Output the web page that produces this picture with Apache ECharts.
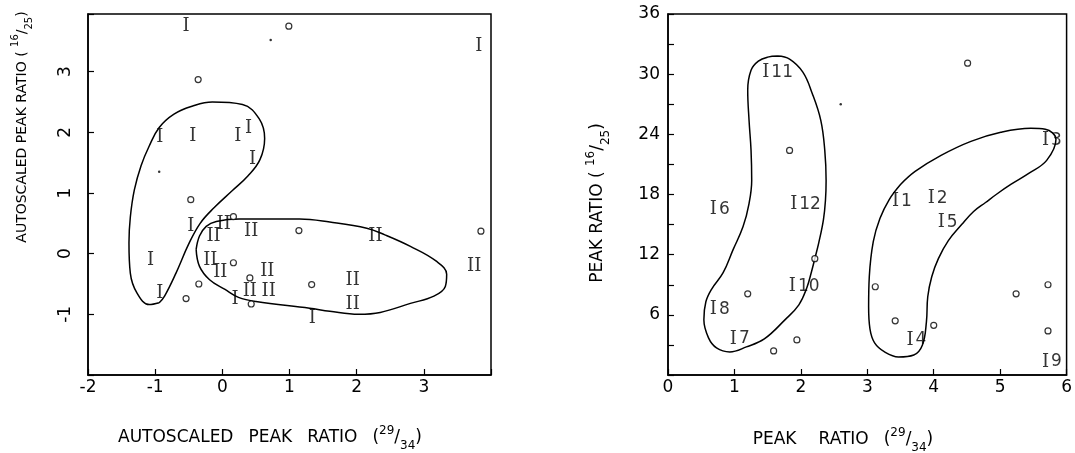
<!DOCTYPE html>
<html><head><meta charset="utf-8">
<script src="https://cdn.jsdelivr.net/npm/echarts@6/dist/echarts.min.js"></script>
<style>html,body{margin:0;padding:0;background:#fff}#c{width:1075px;height:453px}</style>
</head><body><div id="c"></div>
<script>
// ---------- Left panel: autoscaled peak ratios ----------
const leftXTicks = [-2, -1, 0, 1, 2, 3];
const leftYTicks = [-1, 0, 1, 2, 3];
const leftI = [[-0.54,3.75],[3.82,3.42],[-0.93,1.91],[-0.44,1.94],[0.23,1.94],[0.39,2.07],[0.45,1.56],
  [-0.47,0.45],[-1.07,-0.11],[-0.93,-0.66],[0.19,-0.76],[1.34,-1.06]];
const leftII = [[0.02,0.48],[-0.13,0.28],[0.43,0.37],[2.28,0.29],[-0.18,-0.11],[-0.03,-0.31],[0.67,-0.29],
  [0.41,-0.62],[0.69,-0.62],[1.94,-0.44],[1.94,-0.83],[3.75,-0.21]];
const leftCircles = [[0.99,3.75],[-0.36,2.87],[-0.47,0.89],[0.165,0.61],[1.14,0.38],[3.85,0.37],[0.165,-0.15],
  [0.41,-0.40],[-0.35,-0.50],[-0.54,-0.74],[0.43,-0.83],[1.33,-0.51]];
const leftDots = [[0.72,3.52],[-0.94,1.35]];
const leftLoopI = [[-0.94,-0.81],[-1.09,-0.84],[-1.27,-0.65],[-1.37,-0.32],[-1.39,0.18],[-1.37,0.60],[-1.31,1.05],
  [-1.21,1.45],[-1.09,1.77],[-0.94,2.08],[-0.72,2.30],[-0.45,2.43],[-0.15,2.50],[0.30,2.46],[0.55,2.22],[0.63,1.90],[0.56,1.55],[0.38,1.28],
  [0.15,1.04],[-0.12,0.76],[-0.33,0.50],[-0.50,0.16],[-0.69,-0.32],[-0.86,-0.70],[-0.94,-0.81]];
const leftLoopII = [[-0.39,0.07],[-0.34,0.29],[-0.24,0.45],[-0.09,0.53],[0.25,0.57],[1.15,0.57],[1.60,0.52],
  [2.15,0.42],[2.42,0.31],[2.80,0.12],[3.18,-0.12],[3.34,-0.34],[3.32,-0.54],[3.15,-0.70],[2.80,-0.82],
  [2.35,-0.97],[2.03,-1.00],[1.60,-0.95],[1.30,-0.90],[0.50,-0.79],[0.24,-0.72],[0.04,-0.59],[-0.19,-0.43],
  [-0.34,-0.21],[-0.39,0.07]];

// ---------- Right panel: peak ratios ----------
const rightXTicks = [0, 1, 2, 3, 4, 5, 6];
const rightYTicks = [6, 12, 18, 24, 30, 36];
const rightNames  = ['I1','I2','I3','I4','I5','I6','I7','I8','I9','I10','I11','I12'];
const rightLabelX = [3.52, 4.06, 5.78, 3.74, 4.21, 0.78, 1.08, 0.78, 5.78, 2.05, 1.65, 2.07];
const rightLabelY = [17.3, 17.6, 23.4, 3.5, 15.2, 16.5, 3.6, 6.5, 1.3, 8.8, 30.2, 17.0];
const rightCircles = [[1.83,22.4],[4.51,31.1],[2.21,11.6],[1.20,8.1],[1.59,2.4],[1.94,3.5],[3.12,8.8],
  [3.42,5.4],[4.00,4.95],[5.24,8.1],[5.72,9.0],[5.72,4.4]];
const rightDots = [[2.6,27.0]];
const rightLoopA = [[1.65,31.8],[1.83,31.5],[2.03,30.2],[2.17,28.1],[2.30,25.4],[2.36,22.4],[2.38,19.4],
  [2.37,17.4],[2.34,15.5],[2.27,13.2],[2.21,11.6],[2.16,10.3],[2.09,8.7],[1.97,7.0],[1.76,5.5],[1.45,3.6],
  [1.18,2.8],[0.93,2.3],[0.73,2.7],[0.61,3.7],[0.54,5.5],[0.57,7.3],[0.66,8.6],[0.83,10.2],[0.98,12.5],
  [1.13,14.8],[1.22,17.1],[1.26,19.4],[1.25,22.4],[1.22,25.4],[1.20,28.4],[1.25,30.4],[1.36,31.3],[1.50,31.7],[1.65,31.8]];
const rightLoopB = [[3.50,19.0],[3.72,20.3],[4.11,21.9],[4.56,23.3],[5.01,24.2],[5.46,24.6],[5.68,24.5],
  [5.84,23.5],[5.70,21.4],[5.43,20.1],[5.16,19.0],[4.94,18.0],[4.78,17.2],[4.60,16.3],[4.42,15.0],[4.22,13.4],
  [4.07,11.6],[3.97,9.8],[3.91,7.8],[3.89,5.3],[3.83,3.0],[3.70,2.0],[3.47,1.8],[3.26,2.3],[3.11,3.2],
  [3.04,4.6],[3.02,6.8],[3.03,9.8],[3.09,13.3],[3.19,15.6],[3.33,17.5],[3.50,19.0]];

const SANS = 'DejaVu Sans';
const SERIF = 'DejaVu Serif';

function axis(gi, min, max, interval, ticks, extraLabel) {
  return {
    type: 'value', gridIndex: gi, min: min, max: max, interval: interval,
    axisLine: {show: true, onZero: false, lineStyle: {color: '#000', width: 1.5}},
    axisTick: {show: true, inside: true, length: 6, lineStyle: {color: '#000', width: 1.2}},
    splitLine: {show: false},
    axisLabel: Object.assign({
      color: '#000', fontFamily: SANS, fontSize: 17, showMinLabel: true, showMaxLabel: true,
      formatter: v => ticks.some(t => Math.abs(t - v) < 1e-9) ? String(v) : ''
    }, extraLabel || {})
  };
}

function loop(data, xi) {
  return {type: 'line', xAxisIndex: xi, yAxisIndex: xi, data: data, smooth: 0.4, symbol: 'none',
    showSymbol: false, silent: true, z: 1, lineStyle: {color: '#000', width: 1.5}};
}
function textMarks(data, xi, text) {
  return {type: 'scatter', xAxisIndex: xi, yAxisIndex: xi, data: data, symbolSize: 1, silent: true, z: 3,
    itemStyle: {color: 'rgba(0,0,0,0)'},
    label: {show: true, position: 'inside', formatter: text, color: '#000', fontFamily: SERIF, fontSize: 18}};
}
function circles(data, xi) {
  return {type: 'scatter', xAxisIndex: xi, yAxisIndex: xi, data: data, symbol: 'circle', symbolSize: 6,
    silent: true, z: 4, itemStyle: {color: '#fff', borderColor: '#000', borderWidth: 1.2}};
}
function dots(data, xi) {
  return {type: 'scatter', xAxisIndex: xi, yAxisIndex: xi, data: data, symbolSize: 2.5, silent: true,
    itemStyle: {color: '#000'}};
}

const rightLabelData = rightNames.map((n, i) => ({name: n, value: [rightLabelX[i], rightLabelY[i]]}));

const titleRich = (size) => ({
  m: {fontFamily: SANS, fontSize: size, color: '#000', lineHeight: size + 10},
  g: {fontFamily: SANS, fontSize: size, color: '#000', width: 15},
  g2: {fontFamily: SANS, fontSize: size, color: '#000', width: 22},
  sup: {fontFamily: SANS, fontSize: Math.round(size * 0.7), color: '#000', verticalAlign: 'top', lineHeight: size + 10},
  sub: {fontFamily: SANS, fontSize: Math.round(size * 0.7), color: '#000', verticalAlign: 'bottom', lineHeight: size + 10}
});

const option = {
  animation: false,
  backgroundColor: '#fff',
  grid: [
    {left: 88, top: 14, width: 403, height: 361, show: true, borderColor: '#000', borderWidth: 1.5, backgroundColor: 'transparent'},
    {left: 668, top: 14, width: 404, height: 361, show: true, borderColor: '#000', borderWidth: 1.5, backgroundColor: 'transparent'}
  ],
  xAxis: [
    axis(0, -2, 4, 1, leftXTicks, {margin: 4}),
    axis(1, 0, 6, 1, rightXTicks, {margin: 4})
  ],
  yAxis: [
    axis(0, -2, 3.95, 1, leftYTicks, {rotate: 90, margin: 14}),
    axis(1, 0, 36, 3, rightYTicks, {margin: 8})
  ],
  series: [
    loop(leftLoopI, 0), loop(leftLoopII, 0),
    textMarks(leftI, 0, 'I'), textMarks(leftII, 0, 'II'),
    circles(leftCircles, 0), dots(leftDots, 0),
    loop(rightLoopA, 1), loop(rightLoopB, 1),
    {type: 'scatter', xAxisIndex: 1, yAxisIndex: 1, data: rightLabelData, symbolSize: 1, silent: true, z: 3,
      itemStyle: {color: 'rgba(0,0,0,0)'},
      label: {show: true, position: 'inside', formatter: p => '{r|I}{d|' + p.name.slice(1) + '}',
        rich: {r: {fontFamily: SERIF, fontSize: 18, color: '#000'},
               d: {fontFamily: SANS, fontSize: 17, color: '#000', padding: [0, 0, 0, 2]}}}},
    circles(rightCircles, 1), dots(rightDots, 1)
  ],
  graphic: [
    {type: 'text', x: 270, y: 438, silent: true,
      style: {text: '{m|AUTOSCALED}{g| }{m|PEAK}{g| }{m|RATIO}{g| }{m|(}{sup|29}{m|/}{sub|34}{m|)}',
        rich: titleRich(17), align: 'center', verticalAlign: 'middle'}},
    {type: 'text', x: 22, y: 127, rotation: Math.PI / 2, silent: true,
      style: {text: '{m|AUTOSCALED PEAK RATIO ( }{sup|16}{m|/}{sub|25}{m|)}',
        rich: titleRich(14), align: 'center', verticalAlign: 'middle'}},
    {type: 'text', x: 843, y: 440, silent: true,
      style: {text: '{m|PEAK}{g2| }{m|RATIO}{g| }{m|(}{sup|29}{m|/}{sub|34}{m|)}',
        rich: titleRich(17), align: 'center', verticalAlign: 'middle'}},
    {type: 'text', x: 598, y: 203, rotation: Math.PI / 2, silent: true,
      style: {text: '{m|PEAK RATIO ( }{sup|16}{m|/}{sub|25}{m|)}',
        rich: titleRich(17), align: 'center', verticalAlign: 'middle'}}
  ]
};

const chart = echarts.init(document.getElementById('c'), null, {renderer: 'canvas'});
chart.setOption(option);
</script>
</body></html>
